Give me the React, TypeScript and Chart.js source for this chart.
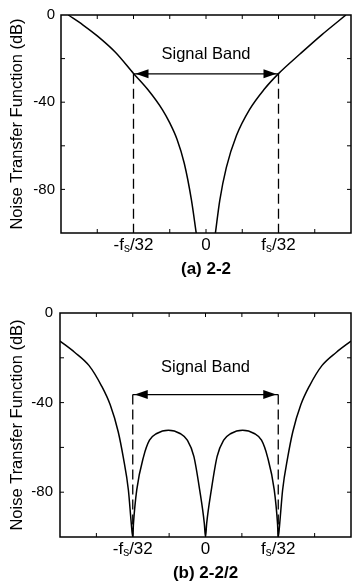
import React, { useEffect, useRef } from "react";
import { Chart, registerables } from "chart.js";

Chart.register(...registerables);

const FONT = "'Liberation Sans', Arial, Helvetica, sans-serif";

// Frequency axis in units of fs/32, NTF in dB
// Panel (a) 2-2
const freqA = [-1.9, -1.7, -1.5, -1.25, -1.0, -0.8, -0.6, -0.5, -0.4, -0.3, -0.2, -0.135, 0, 0.13, 0.19, 0.28, 0.42, 0.6, 0.8, 1.0, 1.3, 1.6, 1.93];
const ntfA = [0, -4.5, -9.6, -17.1, -26.8, -34.3, -43.5, -49.5, -57, -68, -85, -100, null, -100, -85, -70, -55.3, -43.4, -34.2, -26.9, -17.8, -9, 0];

// Panel (b) 2-2/2
const freqB = [-2.0, -1.8, -1.6, -1.43, -1.31, -1.2, -1.13, -1.06, -1.02, -1.0, -0.99, -0.945, -0.85, -0.77, -0.67, -0.51, -0.35, -0.25, -0.16, -0.08, -0.016, 0, 0.016, 0.08, 0.16, 0.25, 0.35, 0.51, 0.67, 0.77, 0.85, 0.945, 0.99, 1.0, 1.02, 1.06, 1.13, 1.2, 1.31, 1.43, 1.6, 1.8, 2.0];
const ntfB = [-12.5, -17.5, -23.5, -32.5, -41, -53, -64.5, -79, -94, -100, -94, -79, -64, -56.8, -53.8, -52.3, -53.8, -56.8, -64, -79, -94, -100, -94, -79, -64, -56.8, -53.8, -52.3, -53.8, -56.8, -64, -79, -94, -100, -94, -79, -64.5, -53, -41, -32.5, -23.5, -17.5, -12.5];

// Axes
const xRange = [-2, 2];
const yRange = [-100, 0];
const xTickValues = [-1, 0, 1];
const xTickLabels = ["-f_s/32", "0", "f_s/32"];
const xMinorTicks = [-1.5, -1, -0.5, 0, 0.5, 1, 1.5];
const yTickLabels = [0, -40, -80];
const yMinorTicks = [-20, -40, -60, -80];

// Signal band annotation
const bandEdges = [-1, 1];
const bandLevels = [-27, -36.4];
const bandLabelLevels = [-18, -24.5];
const bandLabel = "Signal Band";
const captions = ["(a) 2-2", "(b) 2-2/2"];
const yTitle = "Noise Transfer Function (dB)";

function drawSubLabel(ctx: CanvasRenderingContext2D, text: string, cx: number, cy: number) {
  const main = `17px ${FONT}`;
  const sub = `12px ${FONT}`;
  const parts: { t: string; s: boolean }[] = [];
  const idx = text.indexOf("_");
  if (idx >= 0) {
    parts.push({ t: text.slice(0, idx), s: false });
    parts.push({ t: text.slice(idx + 1, idx + 2), s: true });
    parts.push({ t: text.slice(idx + 2), s: false });
  } else parts.push({ t: text, s: false });
  let total = 0;
  const widths = parts.map((p) => {
    ctx.font = p.s ? sub : main;
    const w = ctx.measureText(p.t).width;
    total += w;
    return w;
  });
  let x0 = cx - total / 2;
  ctx.textAlign = "left";
  ctx.textBaseline = "middle";
  parts.forEach((p, i) => {
    ctx.font = p.s ? sub : main;
    ctx.fillText(p.t, x0, p.s ? cy + 4 : cy);
    x0 += widths[i];
  });
}

function makeOverlay(panel: number) {
  return {
    id: "overlay" + panel,
    afterDatasetsDraw(chart: any) {
      const { ctx, chartArea: ca, scales } = chart;
      const x = scales.x;
      const y = scales.y;
      ctx.save();
      ctx.strokeStyle = "#000";
      ctx.fillStyle = "#000";
      // frame
      ctx.lineWidth = 1.5;
      ctx.strokeRect(ca.left, ca.top, ca.right - ca.left, ca.bottom - ca.top);
      // inward ticks
      ctx.lineWidth = 1;
      ctx.beginPath();
      for (const v of xMinorTicks) {
        const px = x.getPixelForValue(v);
        ctx.moveTo(px, ca.bottom);
        ctx.lineTo(px, ca.bottom - 4);
        ctx.moveTo(px, ca.top);
        ctx.lineTo(px, ca.top + 4);
      }
      for (const v of yMinorTicks) {
        const py = y.getPixelForValue(v);
        ctx.moveTo(ca.left, py);
        ctx.lineTo(ca.left + 4, py);
        ctx.moveTo(ca.right, py);
        ctx.lineTo(ca.right - 4, py);
      }
      ctx.stroke();
      // dashed band edges
      const lvl = bandLevels[panel];
      const pyL = y.getPixelForValue(lvl);
      ctx.lineWidth = 1.3;
      ctx.setLineDash([10, 5]);
      ctx.beginPath();
      for (const e of bandEdges) {
        const px = x.getPixelForValue(e);
        ctx.moveTo(px, pyL);
        ctx.lineTo(px, y.getPixelForValue(yRange[0]));
      }
      ctx.stroke();
      ctx.setLineDash([]);
      // arrow
      const xl = x.getPixelForValue(bandEdges[0]);
      const xr = x.getPixelForValue(bandEdges[1]);
      ctx.lineWidth = 1.2;
      ctx.beginPath();
      ctx.moveTo(xl, pyL);
      ctx.lineTo(xr, pyL);
      ctx.stroke();
      const headL = 13;
      const headH = 4.5;
      const tipL = xl + 2;
      const tipR = xr - 2;
      ctx.beginPath();
      ctx.moveTo(tipL, pyL);
      ctx.lineTo(tipL + headL, pyL - headH);
      ctx.lineTo(tipL + headL, pyL + headH);
      ctx.closePath();
      ctx.fill();
      ctx.beginPath();
      ctx.moveTo(tipR, pyL);
      ctx.lineTo(tipR - headL, pyL - headH);
      ctx.lineTo(tipR - headL, pyL + headH);
      ctx.closePath();
      ctx.fill();
      // band label
      ctx.font = `16.5px ${FONT}`;
      ctx.textAlign = "center";
      ctx.textBaseline = "middle";
      ctx.fillText(bandLabel, x.getPixelForValue(0), y.getPixelForValue(bandLabelLevels[panel]));
      // x tick labels
      xTickValues.forEach((v, i) => {
        drawSubLabel(ctx, xTickLabels[i], x.getPixelForValue(v), ca.bottom + 12);
      });
      // caption
      ctx.font = `bold 17px ${FONT}`;
      ctx.textAlign = "center";
      ctx.textBaseline = "middle";
      ctx.fillText(captions[panel], x.getPixelForValue(0), ca.bottom + 36);
      ctx.restore();
    },
  };
}

function Panel({ panel, top, height, padTop, yWidth, xHeight, tickPad }: any) {
  const ref = useRef<HTMLCanvasElement>(null);
  useEffect(() => {
    const freq = panel === 0 ? freqA : freqB;
    const ntf = panel === 0 ? ntfA : ntfB;
    const chart = new Chart(ref.current as HTMLCanvasElement, {
      type: "line",
      data: {
        datasets: [
          {
            data: freq.map((f, i) => ({ x: f, y: ntf[i] })) as any,
            borderColor: "#000",
            borderWidth: 1.5,
            pointRadius: 0,
            cubicInterpolationMode: "monotone",
            spanGaps: false,
          },
        ],
      },
      options: {
        responsive: false,
        animation: false,
        devicePixelRatio: 1,
        layout: { padding: { top: padTop, right: 1, left: 0, bottom: 0 } },
        plugins: { legend: { display: false }, tooltip: { enabled: false } },
        scales: {
          x: {
            type: "linear",
            min: xRange[0],
            max: xRange[1],
            afterFit: (s: any) => {
              s.height = xHeight;
            },
            ticks: { display: false },
            grid: { display: false, drawTicks: false },
            border: { display: false },
          },
          y: {
            min: yRange[0],
            max: yRange[1],
            afterFit: (s: any) => {
              s.width = yWidth;
            },
            ticks: {
              stepSize: 20,
              padding: tickPad,
              color: "#000",
              font: { family: FONT, size: 15 },
              callback: (v: any) => (yTickLabels.includes(Number(v)) ? String(v) : ""),
            },
            grid: { display: false, drawTicks: false },
            border: { display: false },
            title: {
              display: true,
              text: yTitle,
              color: "#000",
              font: { family: FONT, size: 16.5 },
              padding: { top: 8, bottom: 0 },
            },
          },
        },
      },
      plugins: [makeOverlay(panel)],
    });
    return () => chart.destroy();
  }, []);
  return (
    <div style={{ position: "absolute", left: 0, top, width: 352, height }}>
      <canvas ref={ref} width={352} height={height} style={{ display: "block" }} />
    </div>
  );
}

export default function App() {
  return (
    <div style={{ position: "absolute", left: 0, top: 0, width: 352, height: 586, background: "#fff" }}>
      <Panel panel={0} top={0} height={290} padTop={10} yWidth={61} xHeight={57} tickPad={6} />
      <Panel panel={1} top={290} height={296} padTop={23} yWidth={60} xHeight={49} tickPad={7} />
    </div>
  );
}
